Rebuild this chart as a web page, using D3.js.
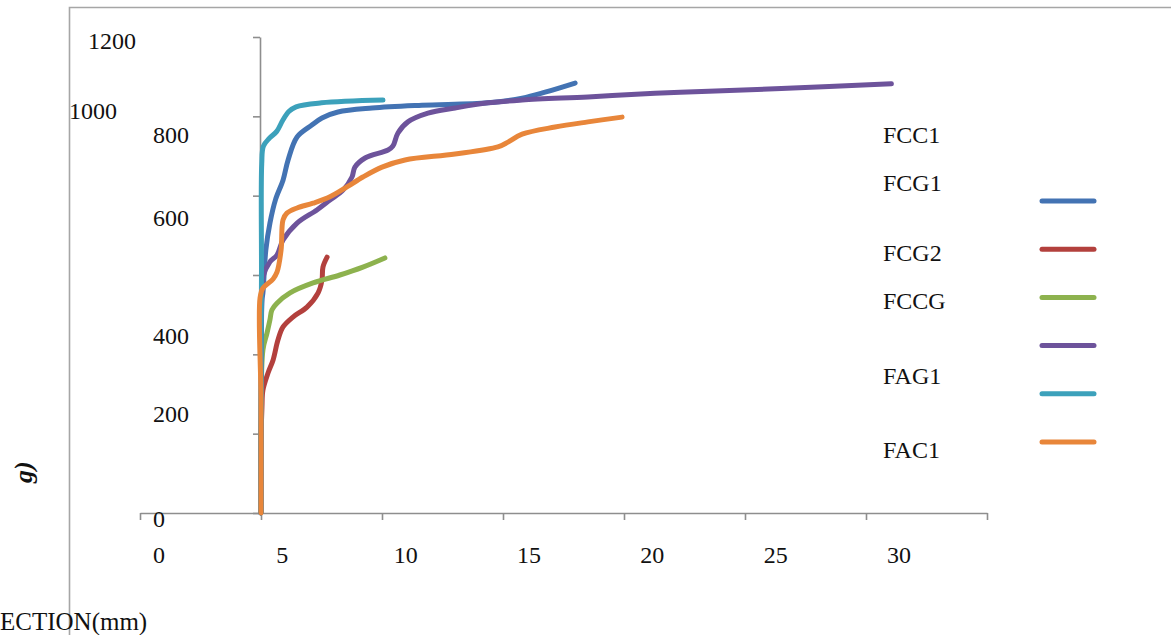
<!DOCTYPE html>
<html>
<head>
<meta charset="utf-8">
<script src="https://cdn.jsdelivr.net/npm/d3@7/dist/d3.min.js"></script>
<style>
  html, body { margin: 0; padding: 0; background: #fff; }
  svg { display: block; font-family: "Liberation Serif", "Times New Roman", serif; }
</style>
</head>
<body>
<svg id="chart" width="1171" height="635"></svg>
<script>
// ---- data ----
const seriesNames = ["FCC1", "FCG1", "FCG2", "FCCG", "FAG1", "FAC1"];
const xTickValues = [0, 5, 10, 15, 20, 25, 30, 35];
const xTickLabels = ["0", "5", "10", "15", "20", "25", "30"];
const yTickValues = [0, 200, 400, 600, 800, 1000, 1200];
const yTickLabels = ["0", "200", "400", "600", "800", "1000", "1200"];

// deflection (mm) / load pairs per series
const FCC1_x = [5.0, 5.02, 5.04, 5.08, 5.2, 5.37, 5.6, 5.91, 6.12, 6.49, 7.1, 7.52, 8.18, 9.59, 11.65, 14.38, 15.79, 16.74, 17.98];
const FCC1_y = [0, 300, 537, 555, 663, 731, 790, 839, 890, 948, 978, 996, 1011, 1021, 1028, 1034, 1046, 1061, 1084];

const FCG1_x = [5.0, 5.0, 5.04, 5.08, 5.29, 5.5, 5.7, 5.91, 6.32, 6.9, 7.36, 7.52, 7.56, 7.73];
const FCG1_y = [0, 184, 267, 310, 353, 386, 436, 469, 494, 519, 555, 587, 620, 645];

const FCG2_x = [5.0, 5.0, 5.08, 5.25, 5.37, 5.45, 5.66, 6.2, 7.15, 8.26, 9.21, 10.12];
const FCG2_y = [0, 234, 411, 454, 487, 512, 529, 555, 580, 600, 620, 643];

const FCCG_x = [5.0, 5.0, 5.04, 5.08, 5.37, 5.66, 5.91, 6.49, 7.31, 7.85, 8.39, 8.76, 8.88, 9.3, 10.25, 10.45, 10.66, 11.07, 11.9, 13.02, 14.38, 15.79, 18.51, 21.28, 23.5, 26.5, 31.05];
const FCCG_y = [0, 285, 562, 595, 633, 650, 688, 731, 764, 789, 814, 847, 872, 895, 915, 925, 958, 986, 1008, 1021, 1034, 1041, 1049, 1058, 1063, 1070, 1082];

const FAG1_x = [5.0, 5.0, 5.02, 5.03, 5.1, 5.35, 5.65, 5.9, 6.15, 6.45, 7.5, 10.04];
const FAG1_y = [0, 300, 600, 880, 925, 945, 962, 990, 1012, 1024, 1034, 1041];

const FAC1_x = [5.0, 5.0, 4.96, 5.08, 5.5, 5.66, 5.83, 5.91, 6.07, 6.49, 7.15, 7.85, 8.55, 9.21, 10.0, 10.95, 13.02, 14.79, 15.21, 15.79, 17.15, 18.51, 19.92];
const FAC1_y = [0, 285, 542, 567, 590, 607, 663, 739, 756, 769, 781, 797, 822, 847, 872, 890, 905, 923, 935, 955, 973, 986, 998];

const seriesX = [FCC1_x, FCG1_x, FCG2_x, FCCG_x, FAG1_x, FAC1_x];
const seriesY = [FCC1_y, FCG1_y, FCG2_y, FCCG_y, FAG1_y, FAC1_y];
const seriesColors = ["#4373b3", "#b3403d", "#8db24e", "#6d539b", "#3ca1bb", "#e8863a"];

// ---- layout ----
const svg = d3.select("#chart");
const W = 1171, H = 635;
svg.append("rect").attr("width", W).attr("height", H).attr("fill", "#fff");

// outer frame (partially visible)
svg.append("path")
  .attr("d", `M69.5,${H} L69.5,7.5 L${W},7.5`)
  .attr("fill", "none").attr("stroke", "#a6a6a6").attr("stroke-width", 1.6);

const x = d3.scaleLinear().domain([0, 35]).range([140, 987]);
const y = d3.scaleLinear().domain([0, 1200]).range([513, 37]);
const axisColor = "#8e8e8e";

// x axis
const gx = svg.append("g").attr("transform", `translate(0,${y(0)})`)
  .call(d3.axisBottom(x).tickValues(xTickValues).tickFormat("").tickSize(7).tickSizeOuter(0));
gx.select(".domain").attr("stroke", axisColor).attr("stroke-width", 1.6);
gx.selectAll(".tick line").attr("stroke", axisColor).attr("stroke-width", 1.6);

// y axis (crosses at deflection 5)
const gy = svg.append("g").attr("transform", `translate(${x(5) - 1},0)`)
  .call(d3.axisLeft(y).tickValues(yTickValues).tickFormat("").tickSize(7).tickSizeOuter(0));
gy.select(".domain").attr("stroke", axisColor).attr("stroke-width", 1.6);
gy.selectAll(".tick line").attr("stroke", axisColor).attr("stroke-width", 1.6);

// x tick labels (slightly displaced, as in the source)
const xLab = d3.scaleLinear().domain([0, 30]).range([159, 899]);
svg.append("g").selectAll("text").data(xTickLabels).join("text")
  .attr("x", d => xLab(+d)).attr("y", 563)
  .attr("text-anchor", "middle").attr("font-size", 24).attr("fill", "#111")
  .text(d => d);

// y tick labels (displaced as in the source) : [left x, dy from tick]
const yLabShift = { "0": [153, 14], "200": [153, -12], "400": [153, -10], "600": [153, -49],
                    "800": [153, -53], "1000": [69, 3], "1200": [88, 12] };
svg.append("g").selectAll("text").data(yTickLabels).join("text")
  .attr("x", d => yLabShift[d][0])
  .attr("y", d => y(+d) + yLabShift[d][1])
  .attr("font-size", 24).attr("fill", "#111")
  .text(d => d);

// axis titles (clipped in source)
svg.append("text").attr("x", 0).attr("y", 630).attr("font-size", 25).attr("fill", "#111")
  .text("ECTION(mm)");
svg.append("text").attr("transform", "translate(32,483) rotate(-90)")
  .attr("font-size", 26).attr("font-weight", "bold").attr("font-style", "italic").attr("fill", "#111")
  .text("g)");

// series lines
const line = d3.line().x(d => x(d[0])).y(d => y(d[1])).curve(d3.curveCatmullRom.alpha(0.5));
seriesNames.forEach((name, i) => {
  const pts = seriesX[i].map((v, k) => [v, seriesY[i][k]]);
  svg.append("path").datum(pts)
    .attr("d", line)
    .attr("fill", "none")
    .attr("stroke", seriesColors[i])
    .attr("stroke-width", 5)
    .attr("stroke-linejoin", "round")
    .attr("stroke-linecap", "round");
});

// legend (labels and swatches are misaligned in the source)
const legLabelY = [143, 191, 261, 309, 384, 458];
svg.append("g").selectAll("text").data(seriesNames).join("text")
  .attr("x", 883).attr("y", (d, i) => legLabelY[i])
  .attr("font-size", 24).attr("fill", "#111").text(d => d);
svg.append("g").selectAll("line").data(seriesNames).join("line")
  .attr("x1", 1042).attr("x2", 1094)
  .attr("y1", (d, i) => 201 + i * 48.2).attr("y2", (d, i) => 201 + i * 48.2)
  .attr("stroke", (d, i) => seriesColors[i]).attr("stroke-width", 5).attr("stroke-linecap", "round");
</script>
</body>
</html>
